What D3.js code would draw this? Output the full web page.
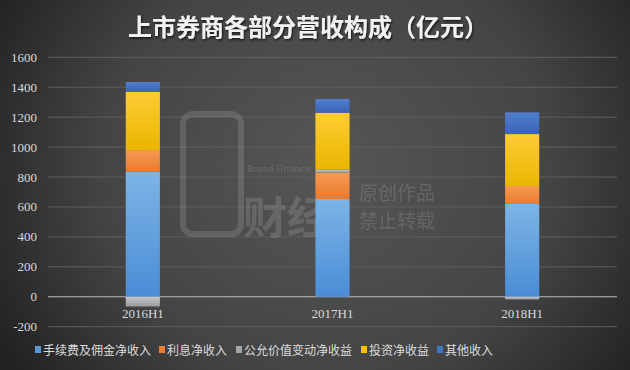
<!DOCTYPE html>
<html>
<head>
<meta charset="utf-8">
<script src="https://cdn.jsdelivr.net/npm/d3@7"></script>
<style>
  html, body { margin: 0; padding: 0; background: #333; }
  #chart { width: 630px; height: 370px; }
</style>
</head>
<body>
<div id="chart"></div>
<script>
var
  width = 630,
  height = 370;

// values (亿元)
var categories = ["2016H1", "2017H1", "2018H1"];
var fee = [835, 653, 620];
var interest = [145, 176, 120];
var fairValue = [-65, 22, -18];
var invest = [390, 379, 347];
var other = [65, 91, 145];

var seriesNames = ["手续费及佣金净收入", "利息净收入", "公允价值变动净收益", "投资净收益", "其他收入"];
var seriesKeys = ["fee", "interest", "fairValue", "invest", "other"];
var yTicks = [-200, 0, 200, 400, 600, 800, 1000, 1200, 1400, 1600];

var colors = {
  fee: ["#7db4e6", "#4a8cd6"],
  interest: ["#f59a55", "#ea7a2e"],
  fairValue: ["#c8c8c8", "#9a9a9a"],
  invest: ["#ffcb35", "#e9b600"],
  other: ["#4f7fd0", "#3a63b5"]
};
var legendColors = ["#5b9bd5", "#ed7d31", "#a5a5a5", "#ffc000", "#4472c4"];

var rows = categories.map(function(c, i) {
  return { cat: c, fee: fee[i], interest: interest[i], fairValue: fairValue[i], invest: invest[i], other: other[i] };
});

var svg = d3.select("#chart")
  .append("svg")
  .attr("width", width)
  .attr("height", height);

var defs = svg.append("defs");

var bg = defs.append("radialGradient")
  .attr("id", "bg")
  .attr("cx", "52%").attr("cy", "45%")
  .attr("r", "60%")
  .attr("gradientTransform", "translate(0.52,0.45) scale(1,1.6) translate(-0.52,-0.45)");
bg.append("stop").attr("offset", "0%").attr("stop-color", "#565656");
bg.append("stop").attr("offset", "60%").attr("stop-color", "#444444");
bg.append("stop").attr("offset", "100%").attr("stop-color", "#222222");

seriesKeys.forEach(function(k) {
  var g = defs.append("linearGradient")
    .attr("id", "g_" + k)
    .attr("x1", 0).attr("y1", 0).attr("x2", 0).attr("y2", 1);
  g.append("stop").attr("offset", "0%").attr("stop-color", colors[k][0]);
  g.append("stop").attr("offset", "100%").attr("stop-color", colors[k][1]);
});

var shadow = defs.append("filter").attr("id", "shadow")
  .attr("x", "-5%").attr("y", "-20%").attr("width", "110%").attr("height", "140%");
shadow.append("feDropShadow")
  .attr("dx", 1).attr("dy", 1.5).attr("stdDeviation", 1)
  .attr("flood-color", "#000").attr("flood-opacity", 0.7);

svg.append("rect")
  .attr("width", width).attr("height", height)
  .attr("fill", "url(#bg)");

// title
svg.append("text")
  .attr("x", 308).attr("y", 36)
  .attr("text-anchor", "middle")
  .attr("font-family", "'Noto Sans CJK SC', sans-serif")
  .attr("font-weight", "bold")
  .attr("font-size", 24)
  .attr("fill", "#f2f2f2")
  .attr("filter", "url(#shadow)")
  .text("上市券商各部分营收构成（亿元）");

var x = d3.scaleBand()
  .domain(categories)
  .range([48, 617])
  .paddingInner(0.82)
  .paddingOuter(0.41);

var y = d3.scaleLinear()
  .domain([-200, 1600])
  .range([326.7, 57.3]);

// grid
svg.append("g")
  .selectAll("line")
  .data(yTicks)
  .enter().append("line")
  .attr("x1", 48).attr("x2", 617)
  .attr("y1", function(d) { return y(d); })
  .attr("y2", function(d) { return y(d); })
  .attr("stroke", function(d) { return d === 0 ? "#bdbdbd" : "#5e5e5e"; })
  .attr("stroke-width", 1);

// watermark
var wm = svg.append("g").attr("opacity", 0.13).attr("fill", "#ffffff");
wm.append("rect")
  .attr("x", 183).attr("y", 114).attr("width", 58).attr("height", 120).attr("rx", 10)
  .attr("fill", "none").attr("stroke", "#ffffff").attr("stroke-width", 6);
wm.append("text").attr("x", 247).attr("y", 172)
  .attr("font-family", "'DejaVu Sans', sans-serif").attr("font-size", 9)
  .text("Bread Finance");
wm.append("text").attr("x", 243).attr("y", 234)
  .attr("font-family", "'Noto Sans CJK SC', sans-serif").attr("font-size", 44).attr("font-weight", "bold")
  .text("财经");
wm.append("text").attr("x", 359).attr("y", 200)
  .attr("font-family", "'Noto Sans CJK SC', sans-serif").attr("font-size", 19)
  .text("原创作品");
wm.append("text").attr("x", 359).attr("y", 228)
  .attr("font-family", "'Noto Sans CJK SC', sans-serif").attr("font-size", 19)
  .text("禁止转载");

// bars
var stack = d3.stack()
  .keys(seriesKeys)
  .offset(d3.stackOffsetDiverging);
var layers = stack(rows);

svg.append("g")
  .selectAll("g")
  .data(layers)
  .enter().append("g")
  .attr("fill", function(d) { return "url(#g_" + d.key + ")"; })
  .selectAll("rect")
  .data(function(d) { return d; })
  .enter().append("rect")
  .attr("x", function(d) { return x(d.data.cat); })
  .attr("width", x.bandwidth())
  .attr("y", function(d) { return y(Math.max(d[0], d[1])); })
  .attr("height", function(d) { return Math.abs(y(d[0]) - y(d[1])); });

// y axis labels
svg.append("g")
  .selectAll("text")
  .data(yTicks)
  .enter().append("text")
  .attr("x", 37)
  .attr("y", function(d) { return y(d) + 4.5; })
  .attr("text-anchor", "end")
  .attr("font-family", "'Liberation Serif', serif")
  .attr("font-size", 13)
  .attr("fill", "#d9d9d9")
  .text(function(d) { return d; });

// x axis labels
svg.append("g")
  .selectAll("text")
  .data(categories)
  .enter().append("text")
  .attr("x", function(d) { return x(d) + x.bandwidth() / 2; })
  .attr("y", 318)
  .attr("text-anchor", "middle")
  .attr("font-family", "'Liberation Serif', serif")
  .attr("font-size", 13)
  .attr("fill", "#d9d9d9")
  .text(function(d) { return d; });

// legend
var legendX = [35, 159, 236, 361, 437];
var legend = svg.append("g")
  .selectAll("g")
  .data(seriesNames)
  .enter().append("g")
  .attr("transform", function(d, i) { return "translate(" + legendX[i] + ",350)"; });
legend.append("rect")
  .attr("x", 0).attr("y", -4).attr("width", 6).attr("height", 7)
  .attr("fill", function(d, i) { return legendColors[i]; });
legend.append("text")
  .attr("x", 8).attr("y", 4.5)
  .attr("font-family", "'Noto Sans CJK SC', sans-serif")
  .attr("font-size", 12)
  .attr("fill", "#dcdcdc")
  .text(function(d) { return d; });
</script>
</body>
</html>
